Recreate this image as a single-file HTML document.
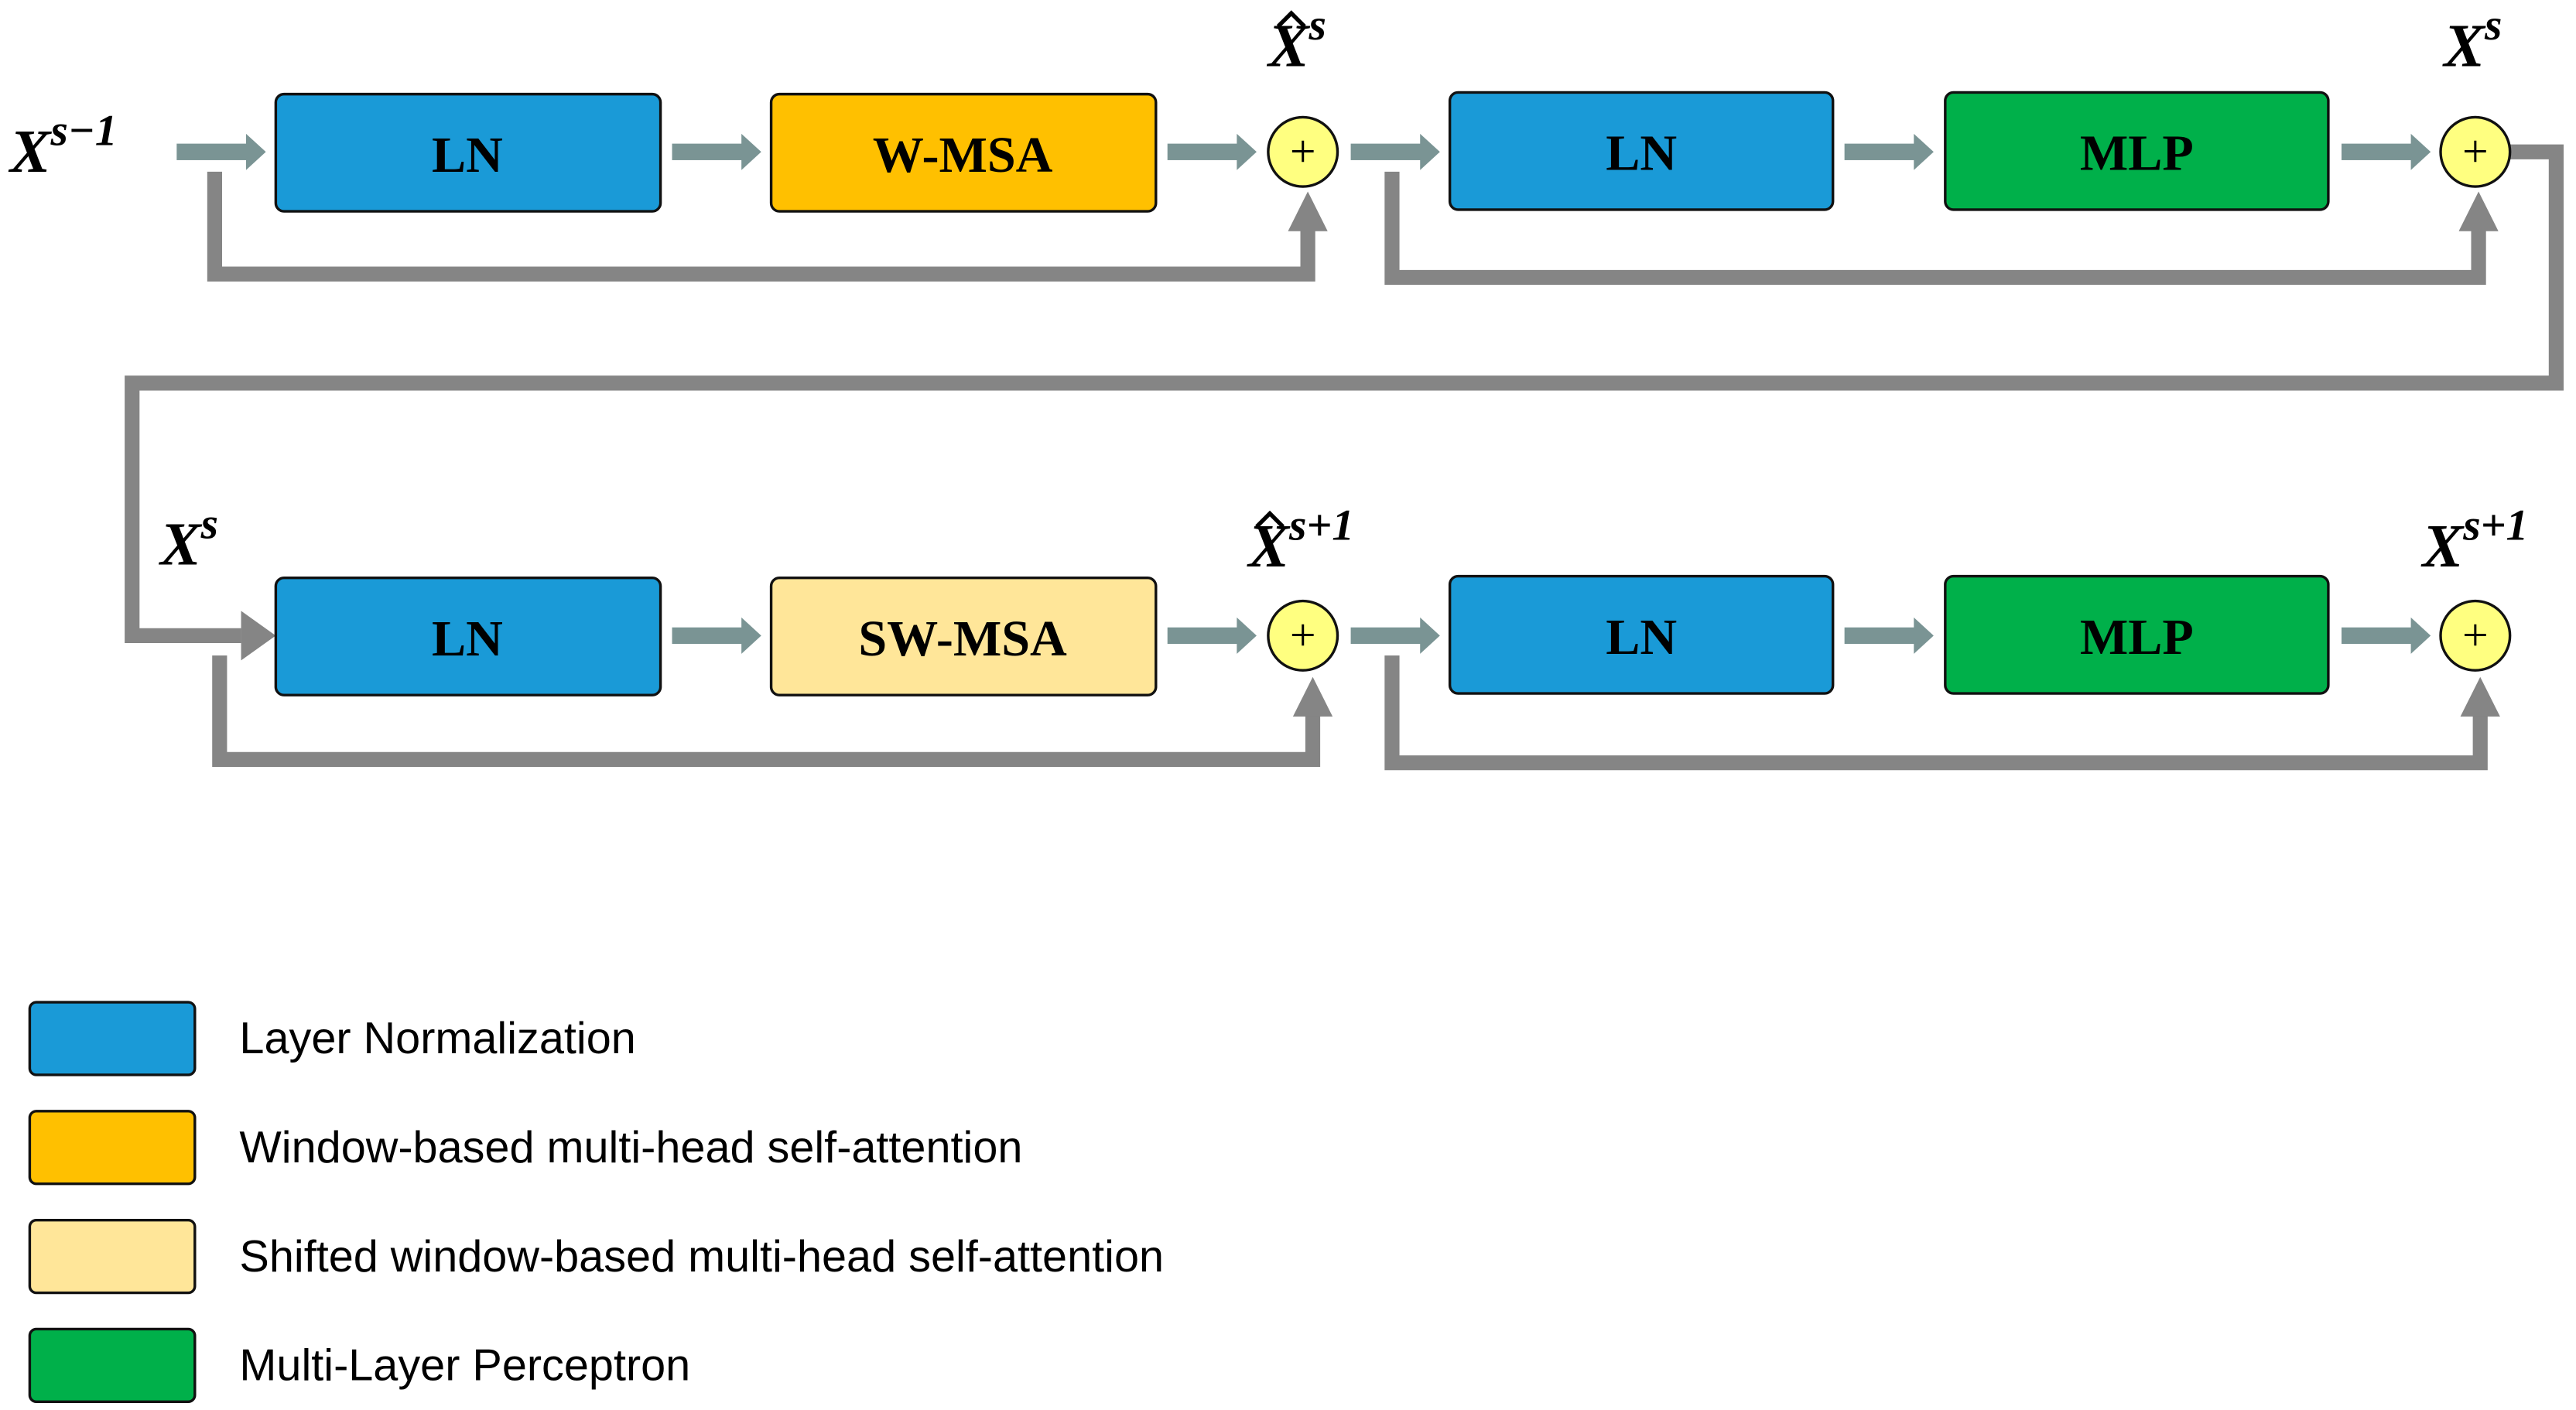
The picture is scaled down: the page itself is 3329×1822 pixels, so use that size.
<!DOCTYPE html>
<html><head><meta charset="utf-8"><style>
html,body{margin:0;padding:0;background:#fff;}
svg{display:block;}
.bx{font-family:"Liberation Serif",serif;font-weight:bold;font-size:31px;text-anchor:middle;}
.mt{font-family:"Liberation Serif",serif;font-weight:bold;font-style:italic;font-size:37px;}
.lg{font-family:"Liberation Sans",sans-serif;font-size:27px;}
</style></head><body>
<svg width="3329" height="1822" viewBox="0 0 1560 854" preserveAspectRatio="none" xmlns="http://www.w3.org/2000/svg">
<defs>
<g id="ar"><rect x="0" y="-5" width="44" height="10" fill="#7a9494"/><polygon points="42,-11 54,0 42,11" fill="#7a9494"/></g>
</defs>
<g fill="none" stroke="#858585" stroke-width="9">
<polyline points="130,104 130,166 792,166 792,136"/>
<polyline points="843,104 843,168 1501,168 1501,136"/>
<polyline points="1520,92 1548,92 1548,232 80,232 80,385 146,385"/>
<polyline points="133,397 133,460 795,460 795,430"/>
<polyline points="843,397 843,462 1502,462 1502,430"/>
</g>
<g fill="#858585">
<polygon points="780,140 804,140 792,116"/>
<polygon points="1489,140 1513,140 1501,116"/>
<polygon points="146,370 146,400 167,385"/>
<polygon points="783,434 807,434 795,410"/>
<polygon points="1490,434 1514,434 1502,410"/>
</g>
<use href="#ar" x="107" y="92"/><use href="#ar" x="407" y="92"/><use href="#ar" x="707" y="92"/>
<use href="#ar" x="818" y="92"/><use href="#ar" x="1117" y="92"/><use href="#ar" x="1418" y="92"/>
<use href="#ar" x="407" y="385"/><use href="#ar" x="707" y="385"/>
<use href="#ar" x="818" y="385"/><use href="#ar" x="1117" y="385"/><use href="#ar" x="1418" y="385"/>
<g stroke="#111" stroke-width="1.6">
<rect x="167" y="57" width="233" height="71" rx="5" fill="#1a9ad7"/>
<rect x="467" y="57" width="233" height="71" rx="5" fill="#ffc000"/>
<rect x="878" y="56" width="232" height="71" rx="5" fill="#1a9ad7"/>
<rect x="1178" y="56" width="232" height="71" rx="5" fill="#00b04a"/>
<rect x="167" y="350" width="233" height="71" rx="5" fill="#1a9ad7"/>
<rect x="467" y="350" width="233" height="71" rx="5" fill="#ffe699"/>
<rect x="878" y="349" width="232" height="71" rx="5" fill="#1a9ad7"/>
<rect x="1178" y="349" width="232" height="71" rx="5" fill="#00b04a"/>
<ellipse cx="789" cy="92" rx="21" ry="21" fill="#ffff80"/>
<ellipse cx="1499" cy="92" rx="21" ry="21" fill="#ffff80"/>
<ellipse cx="789" cy="385" rx="21" ry="21" fill="#ffff80"/>
<ellipse cx="1499" cy="385" rx="21" ry="21" fill="#ffff80"/>
</g>
<g font-family="Liberation Serif,serif" font-size="28" text-anchor="middle">
<text x="789" y="101">+</text><text x="1499" y="101">+</text>
<text x="789" y="394">+</text><text x="1499" y="394">+</text>
</g>
<text class="bx" x="283" y="104">LN</text>
<text class="bx" x="583" y="104">W-MSA</text>
<text class="bx" x="994" y="103">LN</text>
<text class="bx" x="1294" y="103">MLP</text>
<text class="bx" x="283" y="397">LN</text>
<text class="bx" x="583" y="397">SW-MSA</text>
<text class="bx" x="994" y="396">LN</text>
<text class="bx" x="1294" y="396">MLP</text>
<text class="mt" x="6" y="104">X<tspan font-size="27" dy="-16">s−1</tspan></text>
<text class="mt" x="768" y="40">X<tspan font-size="27" dy="-16">s</tspan></text>
<path d="M774,16 L782,8 L790,16" fill="none" stroke="#000" stroke-width="2.5"/>
<text class="mt" x="1480" y="40">X<tspan font-size="27" dy="-16">s</tspan></text>
<text class="mt" x="97" y="342">X<tspan font-size="27" dy="-16">s</tspan></text>
<text class="mt" x="756" y="343">X<tspan font-size="27" dy="-16">s+1</tspan></text>
<path d="M761,319 L769,311 L777,319" fill="none" stroke="#000" stroke-width="2.5"/>
<text class="mt" x="1467" y="343">X<tspan font-size="27" dy="-16">s+1</tspan></text>
<g stroke="#111" stroke-width="1.6">
<rect x="18" y="607" width="100" height="44" rx="4" fill="#1a9ad7"/>
<rect x="18" y="673" width="100" height="44" rx="4" fill="#ffc000"/>
<rect x="18" y="739" width="100" height="44" rx="4" fill="#ffe699"/>
<rect x="18" y="805" width="100" height="44" rx="4" fill="#00b04a"/>
</g>
<text class="lg" x="145" y="638">Layer Normalization</text>
<text class="lg" x="145" y="704">Window-based multi-head self-attention</text>
<text class="lg" x="145" y="770">Shifted window-based multi-head self-attention</text>
<text class="lg" x="145" y="836">Multi-Layer Perceptron</text>
</svg>
</body></html>
